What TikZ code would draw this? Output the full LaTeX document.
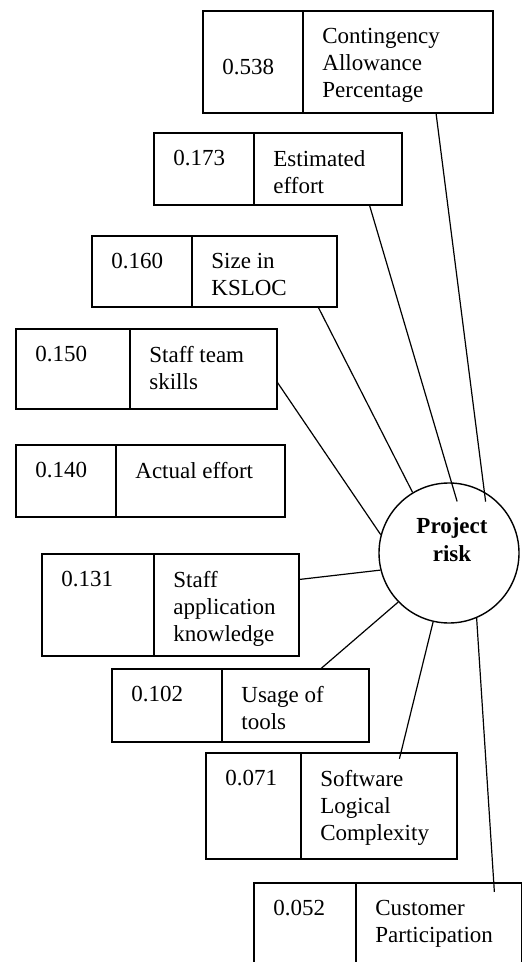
\documentclass[tikz,border=0pt]{standalone}
\usepackage{fontspec}
\setmainfont{Liberation Serif}
\usetikzlibrary{positioning, calc}

\begin{document}
\begin{tikzpicture}[
      x=0.5pt, y=-0.5pt,
      cell/.style={draw, line width=0.8pt, inner sep=0pt, outer sep=0pt},
      celltext/.style={anchor=north west, inner sep=0pt, align=left, font=\fontsize{11.5}{13.5}\selectfont},
      hub/.style={draw, circle, line width=0.7pt, minimum size=70pt, inner sep=0pt},
      hubtext/.style={align=center, inner sep=0pt, font=\fontsize{11.5}{14}\selectfont\bfseries},
      link/.style={line width=0.6pt}
    ]
      \useasboundingbox (0,0) rectangle (521,962);
      \foreach \n/\x/\y/\vw/\lw/\h/\vy/\wt/\factor in {
          1/203/11/50pt/95pt/51pt/48/0.538/{Contingency\\Allowance\\Percentage},
          2/154/133/50pt/74pt/36pt/17/0.173/{Estimated\\effort},
          3/92/236/50pt/72.5pt/35.5pt/17/0.160/{Size in\\KSLOC},
          4/16/329/57pt/73.5pt/40pt/17/0.150/{Staff team\\skills},
          5/16/445/50pt/84.5pt/36pt/17/0.140/{Actual effort},
          6/42/554/56pt/72.5pt/51pt/17/0.131/{Staff\\application\\knowledge},
          7/112/669/55pt/73.5pt/36.5pt/17/0.102/{Usage of\\tools},
          8/206/753/47.5pt/78pt/53pt/17/0.071/{Software\\Logical\\Complexity},
          9/254/883/51pt/83pt/54pt/17/0.052/{Customer\\Participation}} {
        \node[cell, anchor=north west, minimum width=\vw, minimum height=\h] (v\n) at (\x,\y) {};
        \node[cell, minimum width=\lw, minimum height=\h, right=0pt of v\n] (l\n) {};
        \node[celltext] (tv\n) at ([shift={(19,\vy)}]v\n.north west) {\wt};
        \node[celltext] (tl\n) at ([shift={(19,17)}]l\n.north west) {\factor};
      }
      \node[hub] (risk) at (449,553) {};
      \node[hubtext] (risklabel) at ([shift={(3,-13)}]risk.center) {Project\\risk};
      \draw[link, shorten >=-5pt] ($(l1.south west)!0.7!(l1.south east)$) -- (risk.60);
      \draw[link, shorten >=-10pt] ($(l2.south west)!0.78!(l2.south east)$) -- (risk.88);
      \draw[link] ($(l3.south west)!0.87!(l3.south east)$) -- (risk.121);
      \draw[link] ($(l4.north east)!0.66!(l4.south east)$) -- (risk.165);
      \draw[link] ($(l6.north east)!0.25!(l6.south east)$) -- (risk.194);
      \draw[link] ($(l7.north west)!0.67!(l7.north east)$) -- (risk.224);
      \draw[link, shorten <=-3pt] ($(l8.north west)!0.64!(l8.north east)$) -- (risk.257);
      \draw[link, shorten <=-4.5pt] ($(l9.north west)!0.83!(l9.north east)$) -- (risk.293);
    \end{tikzpicture}
\end{document}
